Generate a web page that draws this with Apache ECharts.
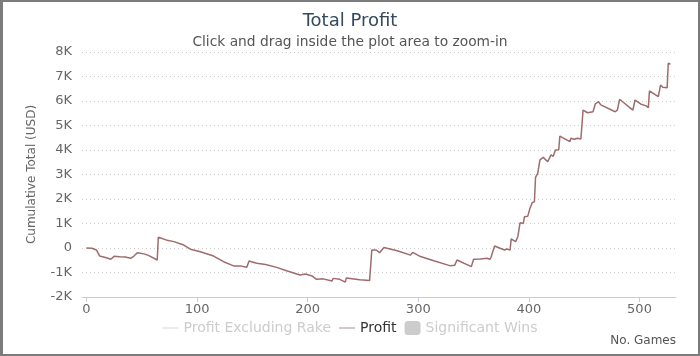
<!DOCTYPE html>
<html>
<head>
<meta charset="utf-8">
<script src="https://cdn.jsdelivr.net/npm/echarts@6/dist/echarts.min.js"></script>
<style>
html,body{margin:0;padding:0;background:#fff;}
#wrap{width:700px;height:356px;box-sizing:border-box;border:2px solid #7c7c7c;border-left-width:3px;position:relative;}
#chart{position:absolute;left:-3px;top:-2px;width:700px;height:356px;}
</style>
</head>
<body>
<div id="wrap"><div id="chart"></div></div>
<script>
var titleText = 'Total Profit';
var subtitleText = 'Click and drag inside the plot area to zoom-in';
var yAxisTitle = 'Cumulative Total (USD)';
var xAxisTitle = 'No. Games';
var legendNames = ['Profit Excluding Rake', 'Profit', 'Significant Wins'];
var xTicks = [0, 100, 200, 300, 400, 500];

var games = [0,5,9,12,18,22,25,30,35,40,43,46,52,56,64,65,72,79,88,94,103,115,124,133,139,145,147,154,162,172,181,193,198,204,208,214,222,223,229,234,235,247,256,258,262,265,269,281,293,295,302,314,327,329,333,335,348,350,356,357,362,365,366,369,374,378,380,383,384,388,390,392,395,396,399,401,403,405,406,408,410,413,417,420,422,424,427,428,437,438,441,444,447,449,453,458,460,463,465,478,480,482,494,496,501,506,508,509,517,519,521,525,526,528];
var profit = [0,-10,-80,-330,-400,-460,-340,-360,-370,-420,-330,-190,-240,-300,-490,440,330,260,120,-50,-150,-330,-560,-730,-730,-790,-530,-620,-670,-790,-930,-1100,-1060,-1140,-1280,-1260,-1350,-1240,-1280,-1390,-1220,-1300,-1330,-80,-80,-190,20,-110,-290,-180,-350,-520,-700,-720,-700,-490,-760,-460,-450,-490,-420,-460,-350,80,-10,-80,-40,-80,370,260,460,1030,1000,1280,1300,1620,1850,1890,2880,3050,3600,3700,3520,3800,3740,4000,4010,4570,4340,4480,4440,4480,4450,5630,5520,5560,5880,5970,5840,5560,5630,6070,5630,6040,5880,5800,5730,6410,6180,6650,6560,6540,7540,7500];

var profitData = games.map(function(g, i){ return [g, profit[i]]; });

var chart = echarts.init(document.getElementById('chart'), null, {renderer:'canvas'});
var font = 'DejaVu Sans';
chart.setOption({
  animation: false,
  backgroundColor: 'transparent',
  textStyle: {fontFamily: font},
  title: {
    text: titleText,
    subtext: subtitleText,
    left: 'center',
    top: 7,
    itemGap: 5,
    textStyle: {fontFamily: font, fontSize: 18, fontWeight: 'normal', color: '#34495e'},
    subtextStyle: {fontFamily: font, fontSize: 13.8, color: '#555555'}
  },
  legend: {
    data: [
      {name: legendNames[0], icon: 'path://M0,0 L20,0 L20,1 L0,1 Z'},
      {name: legendNames[1], icon: 'path://M0,0 L20,0 L20,1 L0,1 Z'},
      {name: legendNames[2], icon: 'roundRect'}
    ],
    selected: {'Profit Excluding Rake': false, 'Profit': true, 'Significant Wins': false},
    bottom: 16,
    left: 'center',
    itemGap: 8,
    itemWidth: 16,
    itemHeight: 14,
    inactiveColor: '#cccccc',
    textStyle: {fontFamily: font, fontSize: 14, color: '#333333'}
  },
  grid: {left: 82, right: 24, top: 52, bottom: 59, containLabel: false},
  xAxis: {
    type: 'value',
    min: -4,
    max: 533,
    axisLine: {show: true, onZero: false, lineStyle: {color: '#c0d0e0', width: 1}},
    axisTick: {show: true, length: 5, lineStyle: {color: '#c0d0e0'}, customValues: xTicks},
    axisLabel: {color: '#666666', fontSize: 13, fontFamily: font, margin: 6, customValues: xTicks},
    splitLine: {show: false}
  },
  yAxis: {
    type: 'value',
    min: -2000,
    max: 8000,
    interval: 1000,
    name: yAxisTitle,
    nameLocation: 'middle',
    nameRotate: 90,
    nameGap: 44,
    nameTextStyle: {color: '#666666', fontSize: 12, fontFamily: font},
    axisLine: {show: false},
    axisTick: {show: false},
    axisLabel: {
      color: '#666666', fontSize: 13, fontFamily: font, margin: 10,
      formatter: function(v){ return v === 0 ? '0' : (v/1000) + 'K'; }
    },
    splitLine: {show: true, lineStyle: {color: '#cccccc', type: [1, 3], width: 1}}
  },
  graphic: [{
    type: 'text',
    right: 24,
    top: 335,
    style: {text: xAxisTitle, fill: '#555555', font: '12px "DejaVu Sans"'}
  }],
  series: [
    {name: legendNames[0], type: 'line', data: [], symbol: 'none', itemStyle: {color: '#cccccc'}, lineStyle: {color: '#cccccc'}},
    {name: legendNames[1], type: 'line', data: profitData, symbol: 'none', itemStyle: {color: '#9e6c6c'}, lineStyle: {color: '#9e6c6c', width: 1.5}},
    {name: legendNames[2], type: 'bar', data: [], itemStyle: {color: '#cccccc'}}
  ]
});
</script>
</body>
</html>
